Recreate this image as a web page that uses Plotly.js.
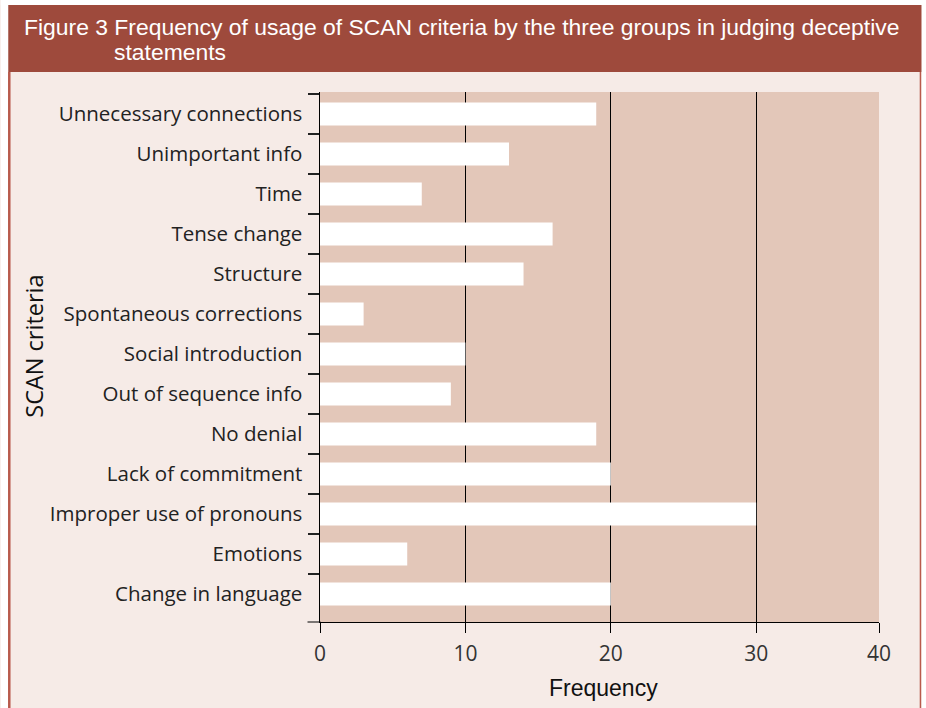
<!DOCTYPE html>
<html>
<head>
<meta charset="utf-8">
<script src="https://cdn.plot.ly/plotly-3.0.1.min.js"></script>
<style>html,body{margin:0;padding:0;background:#fff;}#chart{width:926px;height:708px;}</style>
</head>
<body>
<div id="chart"></div>
<script>
// ---- data ----
const criteria = [
  "Unnecessary connections",
  "Unimportant info",
  "Time",
  "Tense change",
  "Structure",
  "Spontaneous corrections",
  "Social introduction",
  "Out of sequence info",
  "No denial",
  "Lack of commitment",
  "Improper use of pronouns",
  "Emotions",
  "Change in language"
];
const frequency = [19, 13, 7, 16, 14, 3, 10, 9, 19, 20, 30, 6, 20];
const xTickVals = [0, 10, 20, 30, 38.45];
const xTickText = ["0", "10", "20", "30", "40"];
const titleLine1 = "Figure 3 Frequency of usage of SCAN criteria by the three groups in judging deceptive";
const titleLine2 = "statements";
const xTitle = "Frequency";
const yTitle = "SCAN criteria";

// ---- layout geometry (pixels) ----
const W = 926, H = 708;
const L = 319.5, R = 879, T = 92, B = 622;
const px = v => (v - L) / (R - L);
const py = v => (B - v) / (B - T);

const panelColor = "#f6ebe7";
const plotColor = "#e3c7b9";
const bandColor = "#9e4a3c";
const borderColor = "#b85a4c";
const narrow = "Liberation Sans Narrow, Arial Narrow, Liberation Sans, sans-serif";

const trace = {
  type: "bar",
  orientation: "h",
  x: frequency,
  y: criteria,
  width: 0.58,
  marker: {color: "#ffffff", line: {width: 0}},
  hoverinfo: "x+y"
};

const layout = {
  width: W, height: H,
  margin: {l: L, r: W - R, t: T, b: H - B, pad: 0},
  paper_bgcolor: panelColor,
  plot_bgcolor: plotColor,
  showlegend: false,
  font: {family: "Open Sans, sans-serif", color: "#222"},
  xaxis: {
    range: [0, 38.45],
    tickmode: "array",
    tickvals: xTickVals,
    ticktext: xTickText,
    showgrid: true, gridcolor: "#000", gridwidth: 1,
    zeroline: false,
    showline: true, linecolor: "#000", linewidth: 1,
    ticks: "outside", ticklen: 10, tickcolor: "#000", tickwidth: 1,
    tickfont: {family: "Open Sans, sans-serif", size: 21, color: "#333"},
    ticklabelstandoff: 3,
    fixedrange: true
  },
  yaxis: {
    type: "category",
    categoryorder: "array",
    categoryarray: criteria,
    range: [12.7, -0.55],
    tickson: "boundaries",
    ticks: "outside", ticklen: 11, tickcolor: "#222", tickwidth: 1.5,
    showgrid: false,
    showline: true, linecolor: "#000", linewidth: 1.5,
    tickfont: {family: "Open Sans, sans-serif", size: 20.5, color: "#222"},
    ticklabelstandoff: 12,
    fixedrange: true
  },
  shapes: [
    {type: "rect", xref: "paper", yref: "paper", x0: px(0), x1: px(7.5), y0: py(0), y1: py(H), fillcolor: "#fff", line: {width: 0}, layer: "above"},
    {type: "rect", xref: "paper", yref: "paper", x0: px(921.5), x1: px(W), y0: py(0), y1: py(H), fillcolor: "#fff", line: {width: 0}, layer: "above"},
    {type: "rect", xref: "paper", yref: "paper", x0: px(0), x1: px(W), y0: py(0), y1: py(5), fillcolor: "#fff", line: {width: 0}, layer: "above"},
    {type: "line", xref: "paper", yref: "paper", x0: px(8.5), x1: px(8.5), y0: py(72), y1: py(H), line: {color: borderColor, width: 2.5}, layer: "above"},
    {type: "line", xref: "paper", yref: "paper", x0: px(920.5), x1: px(920.5), y0: py(72), y1: py(H), line: {color: borderColor, width: 1.5}, layer: "above"},
    {type: "rect", xref: "paper", yref: "paper", x0: px(7.5), x1: px(921.5), y0: py(5), y1: py(72), fillcolor: bandColor, line: {width: 0}, layer: "above"},
    {type: "line", xref: "paper", yref: "paper", x0: px(307), x1: px(320), y0: 0, y1: 0, line: {color: "#000", width: 1}, layer: "above"}
  ],
  annotations: [
    {xref: "paper", yref: "paper", x: px(21), y: py(27), xanchor: "left", yanchor: "middle", showarrow: false,
     text: titleLine1, font: {family: narrow, size: 22.9, color: "#fff"}},
    {xref: "paper", yref: "paper", x: px(111), y: py(52), xanchor: "left", yanchor: "middle", showarrow: false,
     text: titleLine2, font: {family: narrow, size: 22.9, color: "#fff"}},
    {xref: "paper", yref: "paper", x: px(33), y: py(346), xanchor: "center", yanchor: "middle", showarrow: false,
     textangle: -90, text: yTitle, font: {family: "Open Sans, sans-serif", size: 23.5, color: "#111"}},
    {xref: "paper", yref: "paper", x: px(603), y: py(688), xanchor: "center", yanchor: "middle", showarrow: false,
     text: xTitle, font: {family: narrow, size: 23, color: "#111"}}
  ]
};

Plotly.newPlot("chart", [trace], layout, {displayModeBar: false, staticPlot: true});
</script>
</body>
</html>
